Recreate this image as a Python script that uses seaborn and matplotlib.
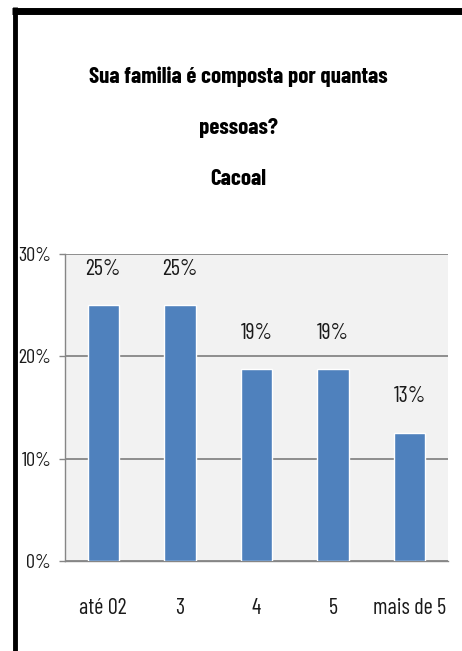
import pandas as pd
import seaborn as sns
import matplotlib.pyplot as plt
from matplotlib.lines import Line2D
from matplotlib.ticker import PercentFormatter

# dados (16 familias -> 25%, 25%, 18,75%, 18,75%, 12,5%)
categorias = ["até 02", "3", "4", "5", "mais de 5"]
percentuais = [0.25, 0.25, 0.1875, 0.1875, 0.125]
rotulos = ["25%", "25%", "19%", "19%", "13%"]
titulo = "Sua familia é composta por quantas\npessoas?\nCacoal"

sns.set_style("white")
plt.rcParams["font.family"] = ["Barlow Condensed", "DejaVu Sans"]

cinza = "#868686"
azul = "#4f81bd"
texto = "#1a1a1a"

df = pd.DataFrame({"categoria": categorias, "valor": percentuais})

fig = plt.figure(figsize=(4.62, 6.51), dpi=100)
ax = fig.add_axes([65 / 462, 1 - 561 / 651, 383 / 462, 307 / 651])
ax.set_facecolor("#f2f2f2")
sns.barplot(data=df, x="categoria", y="valor", color=azul, width=0.41,
            saturation=1, ax=ax, zorder=3)

ax.set_xlim(-0.5, len(categorias) - 0.5)
ax.set_ylim(0, 0.30)
ax.set_yticks([0, 0.1, 0.2, 0.3])
ax.yaxis.set_major_formatter(PercentFormatter(1, decimals=0))
ax.yaxis.grid(True, color=cinza, lw=1.3)
ax.set_axisbelow(True)
ax.set_xlabel("")
ax.set_ylabel("")

for s in ["top", "right"]:
    ax.spines[s].set_visible(False)
for s in ["left", "bottom"]:
    ax.spines[s].set_color(cinza)
    ax.spines[s].set_linewidth(1.0)

# ticks entre categorias, rotulos no centro
ax.set_xticks([i - 0.5 for i in range(len(categorias) + 1)], minor=True)
ax.tick_params(axis="x", which="minor", length=8, color=cinza, width=1, direction="out")
ax.tick_params(axis="x", which="major", length=0, pad=27, labelsize=16, labelcolor=texto)
ax.tick_params(axis="y", length=4, color=cinza, width=1, pad=6, labelsize=14.5,
               labelcolor=texto, left=True)

for i, (v, r) in enumerate(zip(percentuais, rotulos)):
    ax.annotate(r, xy=(i, v), xytext=(0, 26), textcoords="offset points",
                ha="center", va="center", fontsize=16, color=texto)

fig.text(238 / 462, 1 - 128 / 651, titulo, ha="center", va="center",
         fontsize=16.5, fontweight="bold", linespacing=2.95, color="black")

# moldura preta (topo e esquerda)
fig.add_artist(Line2D([12 / 462, 1], [1 - 10.5 / 651] * 2, transform=fig.transFigure,
                      color="black", lw=5, solid_capstyle="butt"))
fig.add_artist(Line2D([14.5 / 462] * 2, [0, 1 - 7 / 651], transform=fig.transFigure,
                      color="black", lw=3.5, solid_capstyle="butt"))

fig.savefig("out.png", dpi=100)
